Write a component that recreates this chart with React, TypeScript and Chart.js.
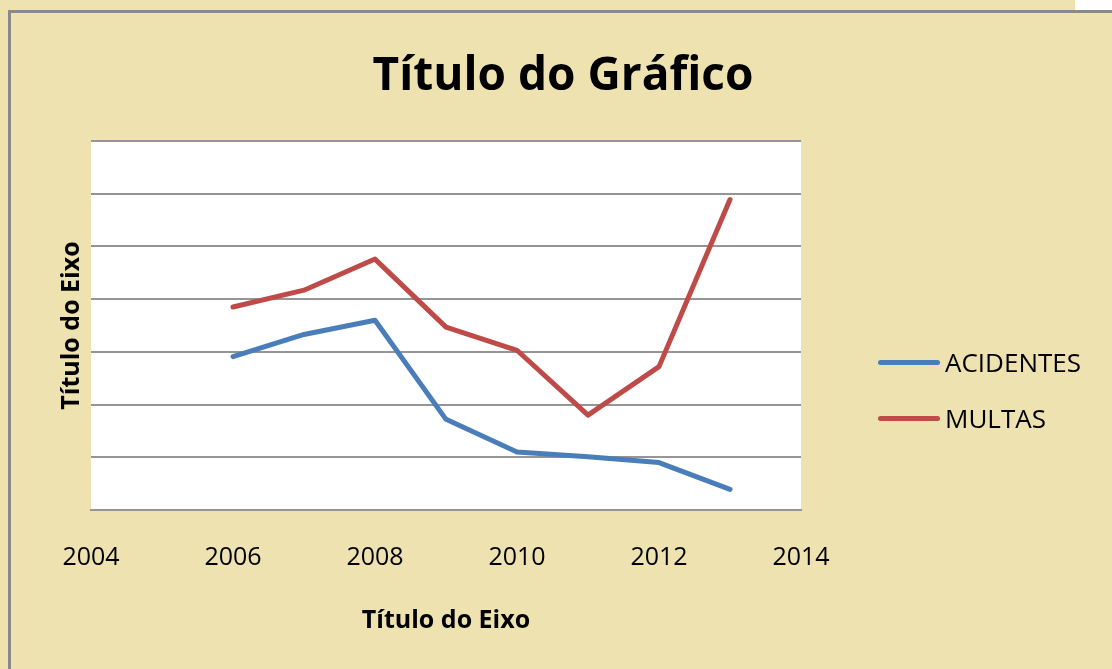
import React, { useEffect, useRef } from "react";
import { Chart, registerables } from "chart.js";

Chart.register(...registerables);

const years = [2006, 2007, 2008, 2009, 2010, 2011, 2012, 2013];
const acidentes = [2.91, 3.33, 3.6, 1.72, 1.1, 1.01, 0.9, 0.39];
const multas = [3.85, 4.17, 4.76, 3.47, 3.03, 1.8, 2.72, 5.89];
const seriesNames = ["ACIDENTES", "MULTAS"];
const seriesColors = ["#4A7EBB", "#BE4B48"];
const chartTitle = "Título do Gráfico";
const xTitle = "Título do Eixo";
const yTitle = "Título do Eixo";

const BG = "#EEE2B0";
const FONT = "'Open Sans', 'DejaVu Sans', sans-serif";

const whiteArea = {
  id: "whiteArea",
  beforeDraw(chart: any) {
    const { ctx, chartArea } = chart;
    ctx.save();
    ctx.fillStyle = "#FFFFFF";
    ctx.fillRect(chartArea.left, chartArea.top, chartArea.right - chartArea.left, chartArea.bottom - chartArea.top);
    ctx.restore();
  },
};

export default function App() {
  const ref = useRef<HTMLCanvasElement | null>(null);

  useEffect(() => {
    if (!ref.current) return;
    const allSeries = [acidentes, multas];
    const chart = new Chart(ref.current, {
      type: "line",
      data: {
        datasets: allSeries.map((vals, s) => ({
          label: seriesNames[s],
          data: years.map((x, i) => ({ x, y: vals[i] })),
          borderColor: seriesColors[s],
          backgroundColor: seriesColors[s],
          borderWidth: 5,
          borderCapStyle: "round",
          borderJoinStyle: "round",
          pointRadius: 0,
          tension: 0,
          fill: false,
        })),
      },
      options: {
        animation: false,
        responsive: false,
        layout: { padding: { left: 53, top: 141, right: 311, bottom: 29 } },
        plugins: {
          legend: { display: false },
          title: { display: false },
          tooltip: { enabled: false },
        },
        scales: {
          x: {
            type: "linear",
            min: 2004,
            max: 2014,
            ticks: {
              stepSize: 2,
              padding: 33,
              color: "#000000",
              font: { family: FONT, size: 25 },
              callback: (v: any) => String(v),
            },
            grid: { display: false, drawTicks: false },
            border: { display: true, color: "#959595", width: 2 },
            title: {
              display: true,
              text: xTitle,
              color: "#000000",
              font: { family: FONT, size: 25, weight: "bold" },
              padding: { top: 0, bottom: 4 },
            },
          },
          y: {
            type: "linear",
            min: 0,
            max: 7,
            ticks: { stepSize: 1, display: false },
            grid: { color: "#959595", lineWidth: 2, drawTicks: false },
            border: { display: false },
            title: {
              display: true,
              text: yTitle,
              color: "#000000",
              font: { family: FONT, size: 25, weight: "bold" },
              padding: { top: 4, bottom: 4 },
            },
          },
        },
      },
      plugins: [whiteArea],
    } as any);
    return () => chart.destroy();
  }, []);

  return (
    <div style={{ position: "fixed", left: 0, top: 0, width: 1112, height: 669, background: BG, overflow: "hidden", fontFamily: FONT }}>
      <div style={{ position: "absolute", left: 1075, top: 0, width: 37, height: 10, background: "#FFFFFF" }} />
      <div style={{ position: "absolute", left: 8, top: 10, right: 0, height: 3, background: "#8A8A8A" }} />
      <div style={{ position: "absolute", left: 8, top: 10, width: 3, bottom: 0, background: "#8A8A8A" }} />
      <canvas ref={ref} width={1112} height={669} style={{ position: "absolute", left: 0, top: 0, width: 1112, height: 669 }} />
      <div style={{ position: "absolute", left: 0, width: 1126, top: 40, textAlign: "center", fontSize: 46, fontWeight: "bold", lineHeight: "64px", color: "#000" }}>
        {chartTitle}
      </div>
      <div style={{ position: "absolute", left: 878, top: 343 }}>
        {seriesNames.map((name, i) => (
          <div key={name} style={{ display: "flex", alignItems: "center", height: 38, marginBottom: i === 0 ? 18 : 0 }}>
            <span style={{ display: "inline-block", width: 62, height: 5, borderRadius: 3, background: seriesColors[i], marginRight: 5 }} />
            <span style={{ fontSize: 26, color: "#000", lineHeight: "38px" }}>{name}</span>
          </div>
        ))}
      </div>
    </div>
  );
}
